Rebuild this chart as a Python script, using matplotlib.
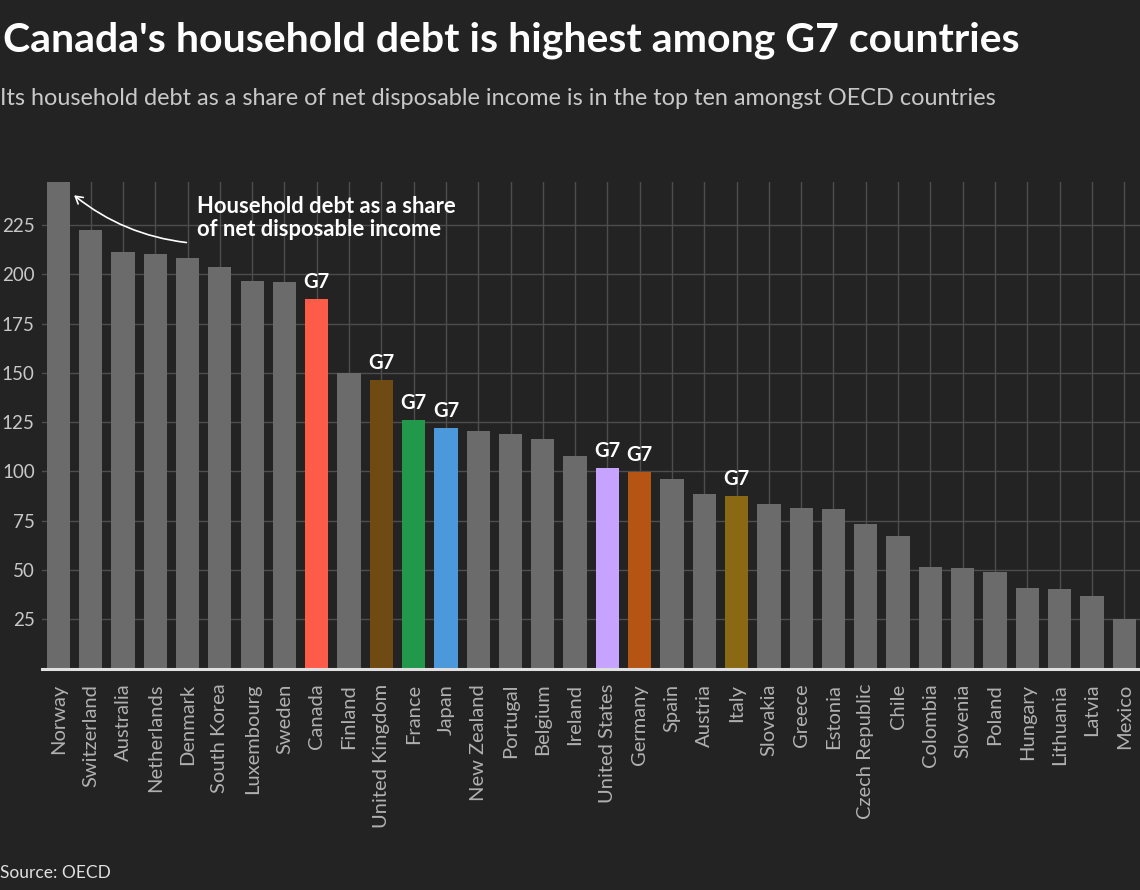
import matplotlib
matplotlib.use("Agg")
import matplotlib.pyplot as plt
from matplotlib.patches import FancyArrowPatch

countries = ["Norway", "Switzerland", "Australia", "Netherlands", "Denmark", "South Korea",
             "Luxembourg", "Sweden", "Canada", "Finland", "United Kingdom", "France", "Japan",
             "New Zealand", "Portugal", "Belgium", "Ireland", "United States", "Germany", "Spain",
             "Austria", "Italy", "Slovakia", "Greece", "Estonia", "Czech Republic", "Chile",
             "Colombia", "Slovenia", "Poland", "Hungary", "Lithuania", "Latvia", "Mexico"]
values = [247.5, 222.4, 211.1, 210.2, 208.2, 203.8, 196.4, 196.0, 187.4, 150.1, 146.3, 126.1,
          122.2, 120.5, 119.0, 116.4, 107.8, 101.9, 99.9, 96.1, 88.5, 87.7, 83.6, 81.6, 80.8,
          73.3, 67.2, 51.5, 50.9, 49.0, 40.9, 40.4, 36.8, 25.2]
g7_colors = {"Canada": "#ff5b49", "United Kingdom": "#6f4a12", "France": "#21984a",
             "Japan": "#4b98da", "United States": "#c5a3ff", "Germany": "#b65414",
             "Italy": "#8b6914"}
yticks = [25, 50, 75, 100, 125, 150, 175, 200, 225]

BG = "#232323"
GRAY = "#6b6b6b"
FONT = ["Lato", "DejaVu Sans"]
plt.rcParams["font.family"] = FONT

fig = plt.figure(figsize=(11.4, 8.9), dpi=100, facecolor=BG)
ax = fig.add_axes([0.0366, 0.2488, 0.9634, 0.547], facecolor=BG)

x = list(range(len(countries)))
colors = [g7_colors.get(c, GRAY) for c in countries]
ax.bar(x, values, width=0.72, color=colors, zorder=2)

ax.set_xlim(-0.515, 33.49)
ax.set_ylim(0, 247)
ax.set_yticks(yticks)
ax.set_xticks(x)
ax.set_xticklabels(countries, rotation=90, fontsize=14.5, color="#b0b0b0")
ax.set_yticklabels([str(v) for v in yticks], fontsize=13.5, color="#c8c8c8")
ax.tick_params(length=0)
ax.tick_params(axis="y", pad=5)
ax.tick_params(axis="x", pad=11)
ax.grid(True, color="#4d4d4d", linewidth=1, zorder=0)
ax.set_axisbelow(True)
for s in ax.spines.values():
    s.set_visible(False)
ax.axhline(0, color="#e0e0e0", linewidth=2.2, zorder=3, clip_on=False)

for i, c in enumerate(countries):
    if c in g7_colors:
        ax.annotate("G7", (i, values[i]), xytext=(0, 5), textcoords="offset points",
                    ha="center", va="bottom", color="white", fontsize=14.5, fontweight="bold")

ax.text(4.3, 228.5, "Household debt as a share\nof net disposable income", color="white",
        fontsize=15.8, fontweight="bold", ha="left", va="center", linespacing=1.1)
arr = FancyArrowPatch((4.05, 216), (0.42, 241), connectionstyle="arc3,rad=-0.15",
                      arrowstyle="->,head_length=5,head_width=3", color="white", lw=1.2,
                      zorder=5)
ax.add_patch(arr)

fig.text(0.003, 0.955, "Canada's household debt is highest among G7 countries", color="white",
         fontsize=29.5, fontweight="bold", ha="left", va="center")
fig.text(0.0, 0.889, "Its household debt as a share of net disposable income is in the top ten amongst OECD countries",
         color="#c8c8c8", fontsize=16.9, ha="left", va="center")
fig.text(0.0, 0.019, "Source: OECD", color="#e0e0e0", fontsize=12.5, ha="left", va="center")

fig.savefig("out.png", dpi=100, facecolor=BG)
